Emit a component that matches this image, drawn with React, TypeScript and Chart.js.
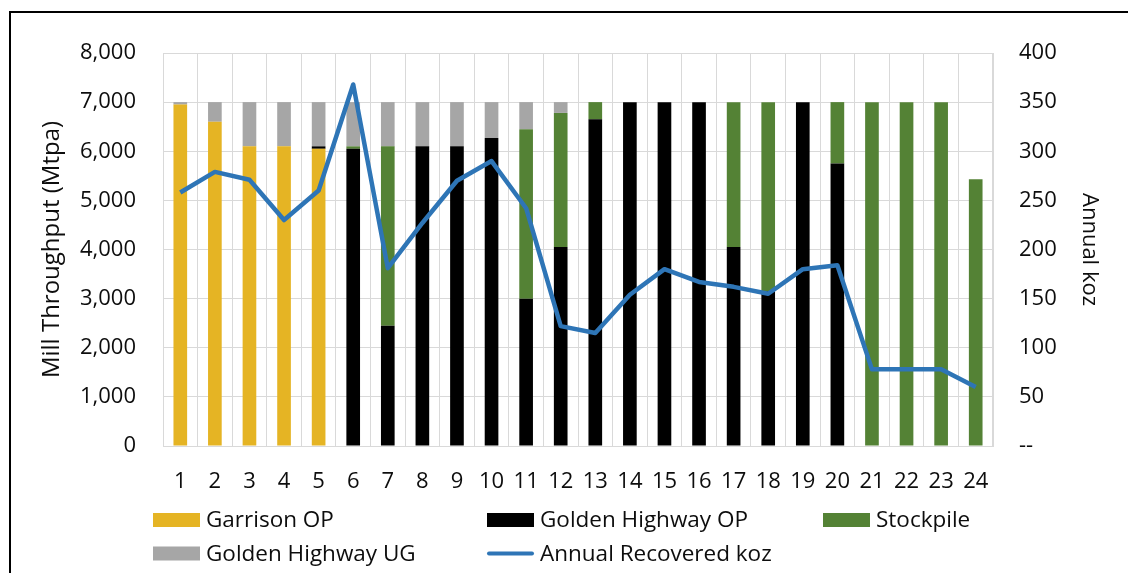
import React, { useEffect, useRef } from 'react';
import { Chart, registerables } from 'chart.js';

Chart.register(...registerables);

const years = ['1', '2', '3', '4', '5', '6', '7', '8', '9', '10', '11', '12', '13', '14', '15', '16', '17', '18', '19', '20', '21', '22', '23', '24'];
const garrisonOP = [6950, 6600, 6100, 6100, 6050, 0, 0, 0, 0, 0, 0, 0, 0, 0, 0, 0, 0, 0, 0, 0, 0, 0, 0, 0];
const goldenHighwayOP = [0, 0, 0, 0, 50, 6050, 2450, 6100, 6100, 6270, 3000, 4050, 6650, 7000, 7000, 7000, 4050, 3150, 7000, 5750, 0, 0, 0, 0];
const stockpile = [0, 0, 0, 0, 0, 50, 3650, 0, 0, 0, 3450, 2730, 350, 0, 0, 0, 2950, 3850, 0, 1250, 7000, 7000, 7000, 5430];
const goldenHighwayUG = [50, 400, 900, 900, 900, 900, 900, 900, 900, 730, 550, 220, 0, 0, 0, 0, 0, 0, 0, 0, 0, 0, 0, 0];
const annualKoz = [258, 279, 271, 230, 260, 368, 181, 227, 270, 290, 242, 122, 115, 154, 180, 167, 162, 155, 180, 184, 78, 78, 78, 60];

const leftTicksMax = 8000;
const rightTicksMax = 400;

const FONT = '"Open Sans", "Noto Sans", sans-serif';
const TEXT = '#0d0d0d';
const GRID = '#d9d9d9';

// legend grid: [column, row] for each dataset label
const legendSlots: Record<string, [number, number]> = {
  'Garrison OP': [0, 0],
  'Golden Highway OP': [1, 0],
  'Stockpile': [2, 0],
  'Golden Highway UG': [0, 1],
  'Annual Recovered koz': [1, 1],
};
const legendColX = [153, 487, 823];
const legendRowY = [520, 553.5];

const gridLegend = {
  id: 'gridLegend',
  afterDraw(chart: any) {
    const ctx = chart.ctx as CanvasRenderingContext2D;
    ctx.save();
    chart.data.datasets.forEach((ds: any) => {
      const slot = legendSlots[ds.label];
      if (!slot) return;
      const x = legendColX[slot[0]];
      const y = legendRowY[slot[1]];
      if (ds.type === 'line') {
        ctx.strokeStyle = ds.borderColor;
        ctx.lineWidth = 4;
        ctx.lineCap = 'round';
        ctx.beginPath();
        ctx.moveTo(x + 2, y);
        ctx.lineTo(x + 45, y);
        ctx.stroke();
      } else {
        ctx.fillStyle = ds.backgroundColor;
        ctx.fillRect(x, y - 7, 47, 14);
      }
      ctx.fillStyle = TEXT;
      ctx.font = `22.5px ${FONT}`;
      ctx.textBaseline = 'middle';
      ctx.textAlign = 'left';
      ctx.fillText(ds.label, x + 53, y + 1);
    });
    ctx.restore();
  },
};

export default function App() {
  const ref = useRef<HTMLCanvasElement>(null);

  useEffect(() => {
    const font = { family: FONT, size: 22 };
    const chart = new Chart(ref.current as HTMLCanvasElement, {
      type: 'bar',
      data: {
        labels: years,
        datasets: [
          { type: 'line', label: 'Annual Recovered koz', data: annualKoz, yAxisID: 'y1', borderColor: '#2E75B6', backgroundColor: '#2E75B6', borderWidth: 4.5, pointRadius: 0, tension: 0, order: 0, borderJoinStyle: 'round' } as any,
          { type: 'bar', label: 'Garrison OP', data: garrisonOP, backgroundColor: '#E5B424', yAxisID: 'y', order: 1, stack: 's' },
          { type: 'bar', label: 'Golden Highway OP', data: goldenHighwayOP, backgroundColor: '#000000', yAxisID: 'y', order: 1, stack: 's' },
          { type: 'bar', label: 'Stockpile', data: stockpile, backgroundColor: '#548235', yAxisID: 'y', order: 1, stack: 's' },
          { type: 'bar', label: 'Golden Highway UG', data: goldenHighwayUG, backgroundColor: '#A6A6A6', yAxisID: 'y', order: 1, stack: 's' },
        ],
      },
      options: {
        responsive: false,
        animation: false,
        events: [],
        layout: { padding: { top: 53, bottom: 67, left: 0, right: 0 } },
        datasets: { bar: { barPercentage: 0.395, categoryPercentage: 1 } },
        plugins: { legend: { display: false }, tooltip: { enabled: false }, title: { display: false } },
        scales: {
          x: {
            stacked: true,
            grid: { color: GRID, offset: true, drawTicks: false, lineWidth: 1 },
            border: { color: GRID },
            ticks: { font, color: TEXT, padding: 23, maxRotation: 0, autoSkip: false },
            afterFit: (s: any) => { s.height = 60; },
          },
          y: {
            stacked: true,
            position: 'left',
            min: 0,
            max: leftTicksMax,
            ticks: { stepSize: 1000, font, color: TEXT, padding: 27, callback: (v: any) => Number(v).toLocaleString('en-US') },
            grid: { color: GRID, drawTicks: false, lineWidth: 1 },
            border: { color: GRID },
            title: { display: true, text: 'Mill Throughput (Mtpa)', font: { family: FONT, size: 24 }, color: TEXT, padding: { top: 38, bottom: 0 } },
            afterFit: (s: any) => { s.width = 163; },
          },
          y1: {
            position: 'right',
            min: 0,
            max: rightTicksMax,
            ticks: { stepSize: 50, font, color: TEXT, padding: 26, callback: (v: any) => (Number(v) === 0 ? '--' : String(v)) },
            grid: { drawOnChartArea: false, drawTicks: false },
            border: { color: GRID },
            title: { display: true, text: 'Annual koz', font, color: TEXT, padding: { top: 26, bottom: 0 } },
            afterFit: (s: any) => { s.width = 135; },
          },
        },
      },
      plugins: [gridLegend],
    });
    return () => chart.destroy();
  }, []);

  return (
    <div style={{ position: 'fixed', left: 0, top: 0, width: 1128, height: 573, background: '#fff', overflow: 'hidden' }}>
      <canvas ref={ref} width={1128} height={573} style={{ display: 'block' }} />
      <div style={{ position: 'absolute', left: 9, top: 11, width: 1300, height: 700, borderTop: '2px solid #000', borderLeft: '2px solid #000', pointerEvents: 'none' }} />
    </div>
  );
}
